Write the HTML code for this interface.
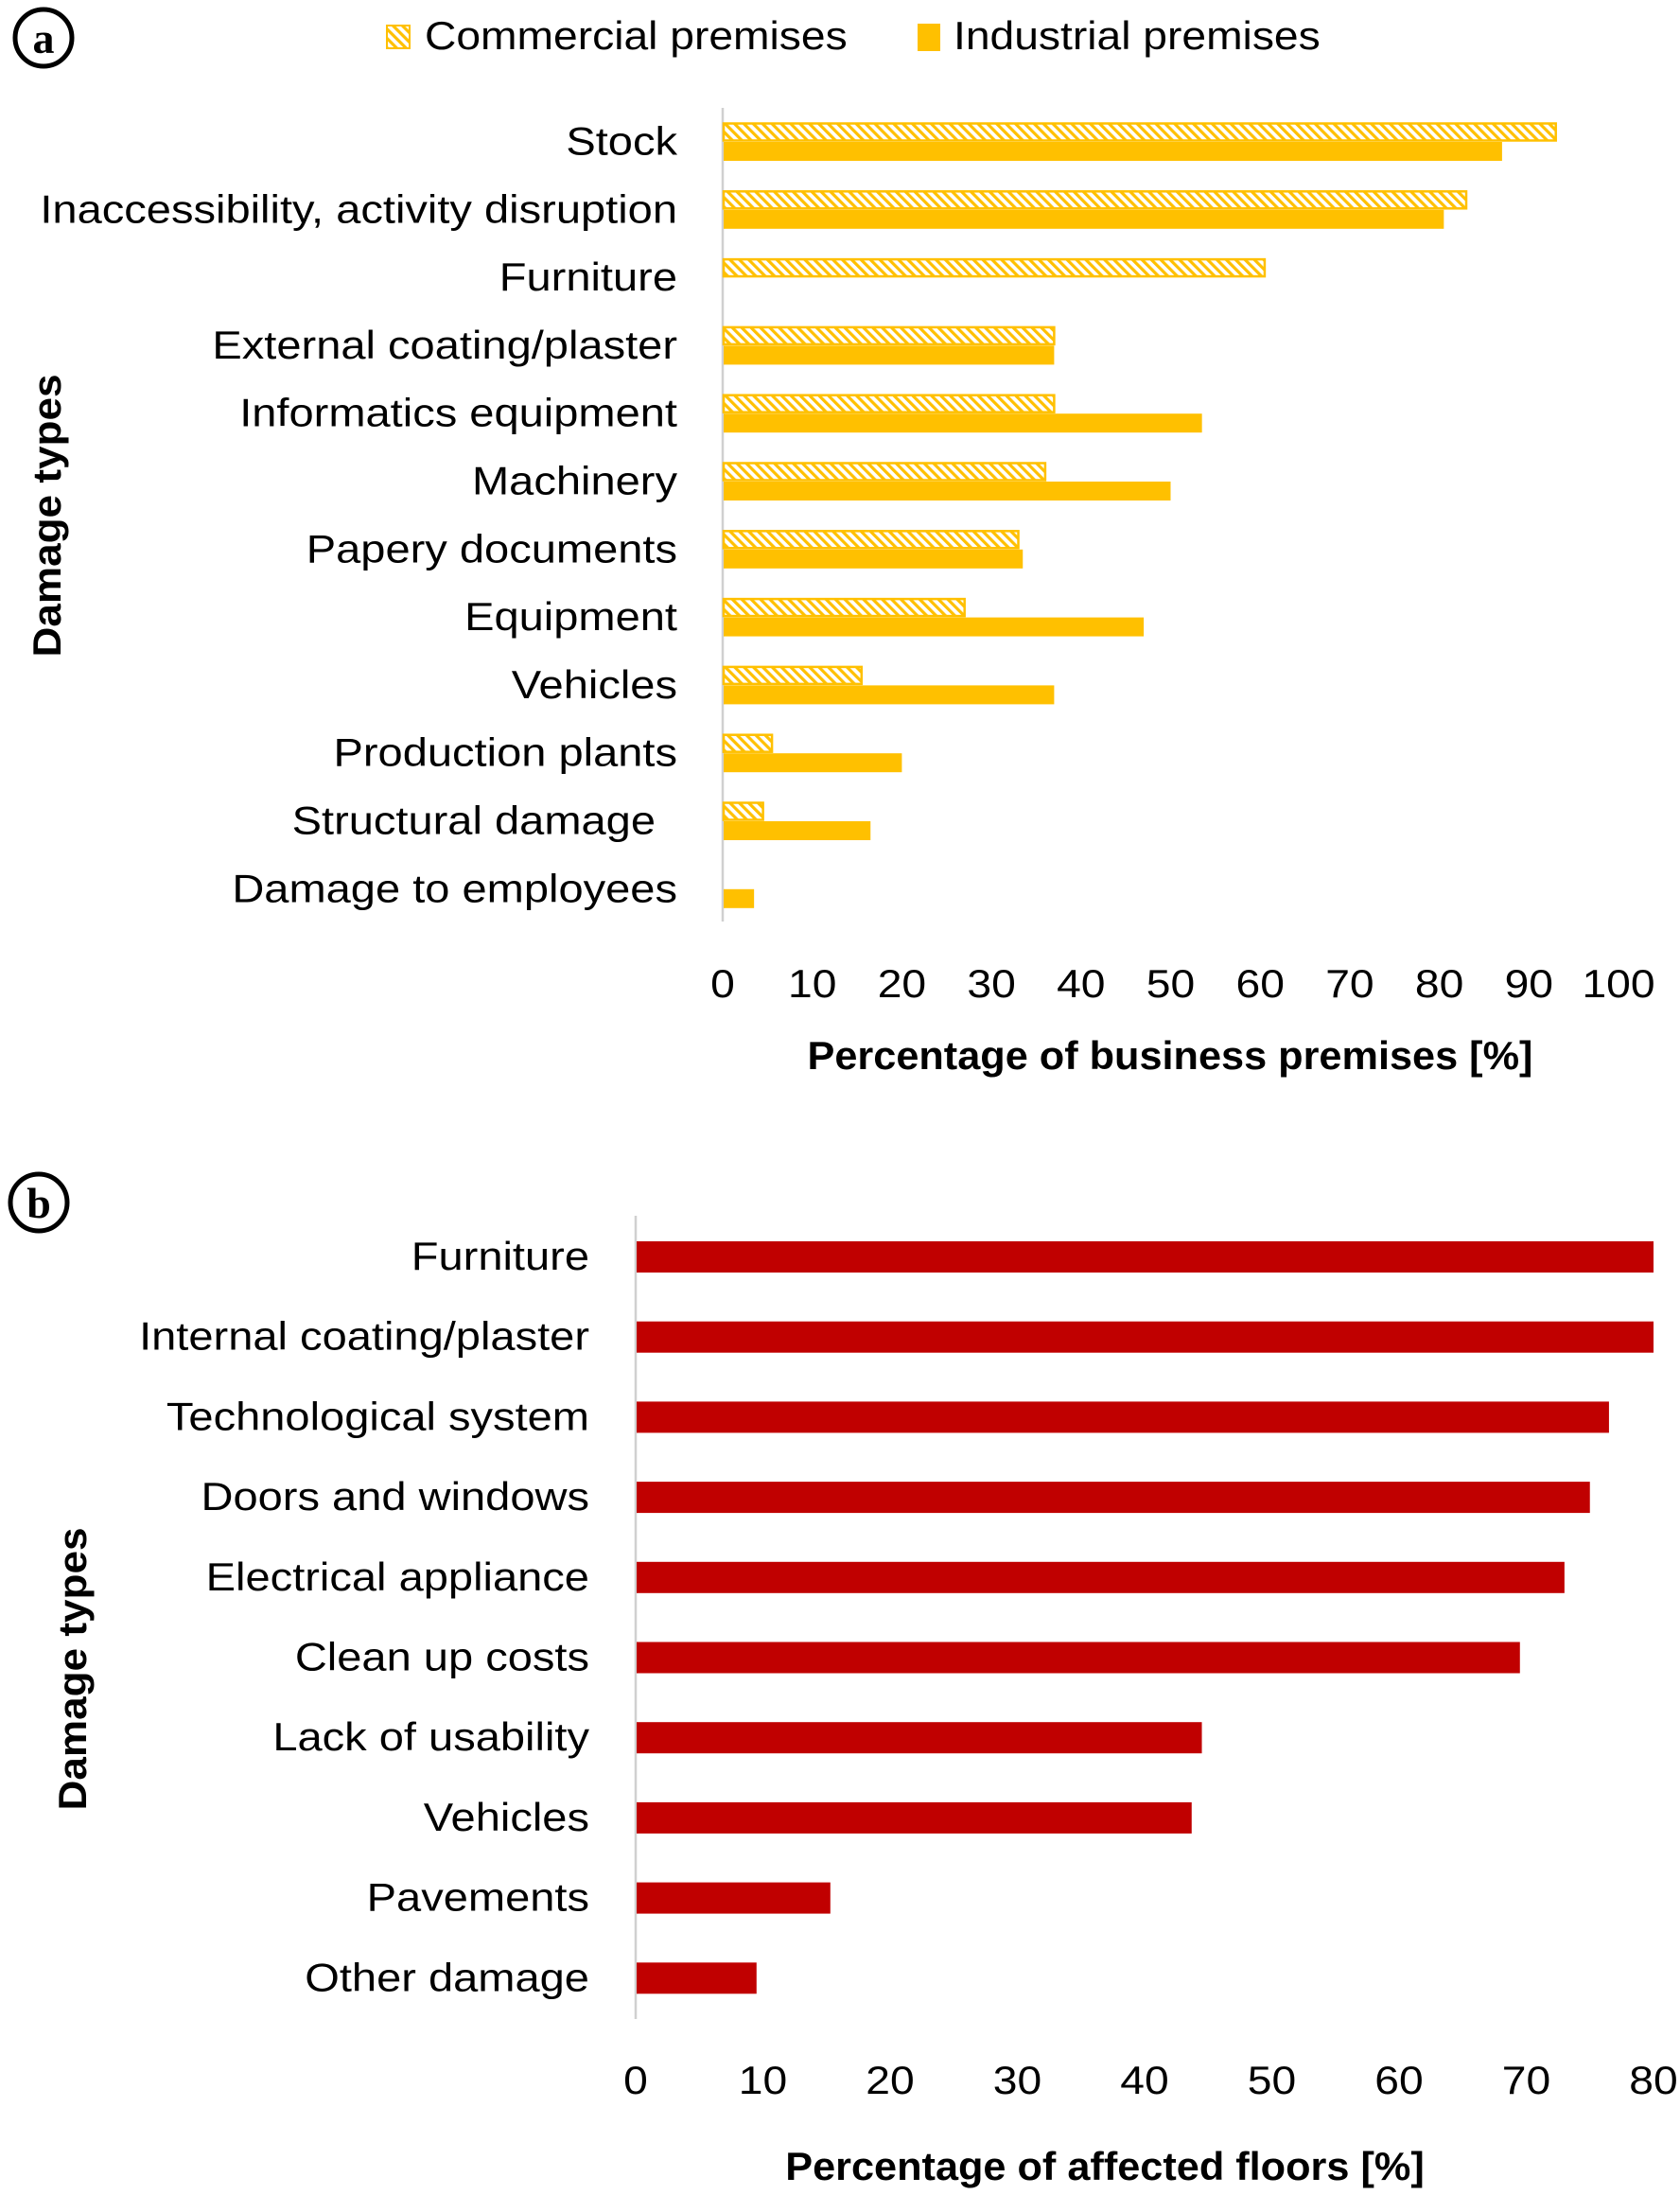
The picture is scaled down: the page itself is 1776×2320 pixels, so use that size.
<!DOCTYPE html>
<html><head><meta charset="utf-8"><style>
html,body{margin:0;padding:0;background:#fff}
svg{display:block;font-family:"Liberation Sans",sans-serif}
</style></head><body>
<svg id="s" width="1776" height="2320" viewBox="0 0 1776 2320">
<defs>
<pattern id="hatch" patternUnits="userSpaceOnUse" width="7" height="7" patternTransform="rotate(-45)">
<rect width="7" height="7" fill="#fff"/><rect width="3.2" height="7" fill="#ffc000"/>
</pattern>
</defs>
<g>
<circle cx="46" cy="40" r="30" fill="none" stroke="#000" stroke-width="5"/>
<text x="46" y="56" font-family="Liberation Serif,serif" font-weight="bold" font-size="46" text-anchor="middle">a</text>
</g>
<g>
<rect x="409" y="27" width="24" height="24" fill="url(#hatch)" stroke="#ffc000" stroke-width="2"/>
<text class="cond" x="449" y="52" font-size="42">Commercial premises</text>
<rect x="970" y="25" width="24" height="29" fill="#ffc000"/>
<text class="cond" x="1008" y="52" font-size="42">Industrial premises</text>
</g>
<g id="chartA"></g>
<g>
<circle cx="41" cy="1271" r="30" fill="none" stroke="#000" stroke-width="5"/>
<text x="41" y="1287" font-family="Liberation Serif,serif" font-weight="bold" font-size="46" text-anchor="middle">b</text>
</g>
<g id="chartB"></g>
</svg>
<script>
const catsA = ["Stock","Inaccessibility, activity disruption","Furniture","External coating/plaster","Informatics equipment","Machinery","Papery documents","Equipment","Vehicles","Production plants","Structural damage ","Damage to employees"];
const commercialA = [93,83,60.5,37,37,36,33,27,15.5,5.5,4.5,0];
const industrialA = [87,80.5,0,37,53.5,50,33.5,47,37,20,16.5,3.5];
const ticksA = [0,10,20,30,40,50,60,70,80,90,100];

const catsB = ["Furniture","Internal coating/plaster","Technological system","Doors and windows","Electrical appliance","Clean up costs","Lack of usability","Vehicles","Pavements","Other damage"];
const valuesB = [80,80,76.5,75,73,69.5,44.5,43.7,15.3,9.5];
const ticksB = [0,10,20,30,40,50,60,70,80];

const NS="http://www.w3.org/2000/svg";
function mk(parent,tag,attrs,txt){const e=document.createElementNS(NS,tag);for(const k in attrs)e.setAttribute(k,attrs[k]);if(txt!==undefined)e.textContent=txt;parent.appendChild(e);return e;}
function cond(t,f){const w=t.getComputedTextLength();t.setAttribute('textLength',w*(f||1.1));t.setAttribute('lengthAdjust','spacingAndGlyphs');}
document.querySelectorAll('.cond').forEach(t=>cond(t,1.1));

// Chart A
const gA=document.getElementById('chartA');
const xA=v=>764+v*9.47;
const yA=i=>149.5+i*71.8;
mk(gA,'line',{x1:764,x2:764,y1:114,y2:974,stroke:'#d0d0d0','stroke-width':2.5});
catsA.forEach((c,i)=>{
  const t=mk(gA,'text',{x:716,y:yA(i)+14,'font-size':42,'text-anchor':'end'},c.trim());
  
  
  cond(t,1.12);
  if(c.endsWith(' ')) t.setAttribute('x',693);
  if(commercialA[i]>0){
    const r=mk(gA,'rect',{x:xA(0)+1,y:yA(i)-19,width:xA(commercialA[i])-xA(0)-1,height:18,fill:'url(#hatch)',stroke:'#ffc000','stroke-width':2.5});
    
    
  }
  if(industrialA[i]>0){
    const r=mk(gA,'rect',{x:xA(0)+1,y:yA(i)+0.5,width:xA(industrialA[i])-xA(0)-1,height:20,fill:'#ffc000'});
    
    
  }
});
ticksA.forEach(v=>{
  const t=mk(gA,'text',{x:xA(v),y:1054,'font-size':42,'text-anchor':'middle'},String(v));
  
  
  cond(t,1.1);
});
const tA=mk(gA,'text',{x:1237,y:1130,'font-size':42,'font-weight':'bold','text-anchor':'middle'},'Percentage of business premises [%]');


cond(tA,1.03);
const yTA=mk(gA,'text',{x:0,y:0,'font-size':42,'font-weight':'bold','text-anchor':'middle',transform:'translate(64,545) rotate(-90)'},'Damage types');


cond(yTA,1.05);

// Chart B
const gB=document.getElementById('chartB');
const xB=v=>672+v*13.45;
const yB=i=>1328+i*84.7;
mk(gB,'line',{x1:672,x2:672,y1:1285,y2:2134,stroke:'#d0d0d0','stroke-width':2.5});
catsB.forEach((c,i)=>{
  const t=mk(gB,'text',{x:623,y:yB(i)+14,'font-size':42,'text-anchor':'end'},c);
  
  
  cond(t,1.12);
  const r=mk(gB,'rect',{x:xB(0)+1,y:yB(i)-16,width:xB(valuesB[i])-xB(0)-1,height:33,fill:'#c00000'});
  
  
});
ticksB.forEach(v=>{
  const t=mk(gB,'text',{x:xB(v),y:2213,'font-size':42,'text-anchor':'middle'},String(v));
  
  
  cond(t,1.1);
});
const tB=mk(gB,'text',{x:1168,y:2304,'font-size':42,'font-weight':'bold','text-anchor':'middle'},'Percentage of affected floors [%]');


cond(tB,1.03);
const yTB=mk(gB,'text',{x:0,y:0,'font-size':42,'font-weight':'bold','text-anchor':'middle',transform:'translate(91,1764) rotate(-90)'},'Damage types');


cond(yTB,1.05);
</script>
</body></html>
